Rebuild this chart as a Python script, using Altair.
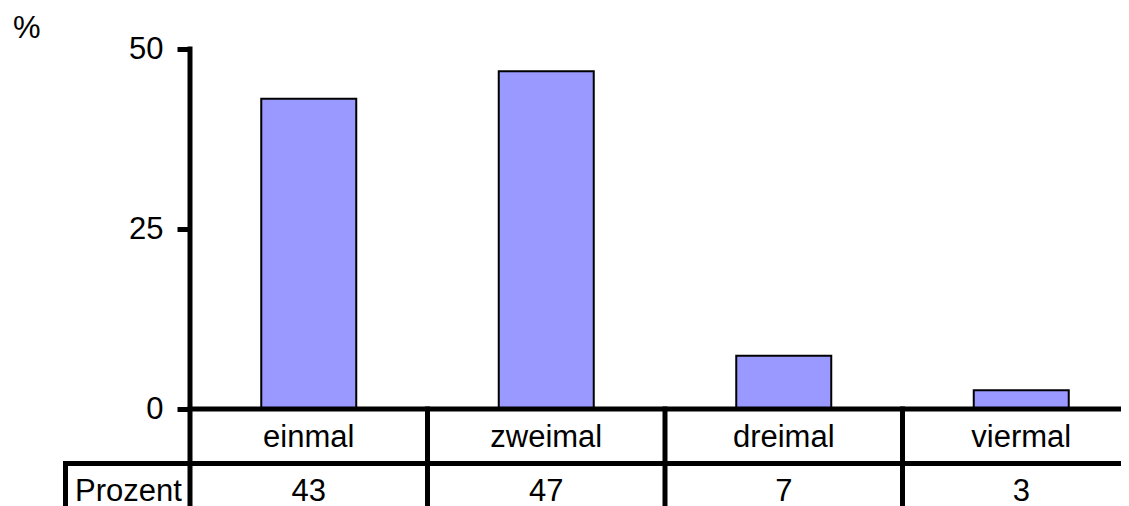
import altair as alt
import pandas as pd

categories = ["einmal", "zweimal", "dreimal", "viermal"]
values = [43.1, 46.9, 7.4, 2.6]
value_labels = ["43", "47", "7", "3"]
row_label = "Prozent"
y_ticks = [0, 25, 50]
unit_label = "%"

FONT = "Liberation Sans"
FS = 31
PLOT_W = 931
BAND = 237.5  # pixel width of one category column

df = pd.DataFrame({"cat": categories, "val": values, "lab": value_labels,
                   "i": list(range(len(categories)))})
one = pd.DataFrame({"k": [0]})

xscale = alt.Scale(domain=[0, PLOT_W / BAND], nice=False, zero=False, padding=0)
yscale = alt.Scale(domain=[0, 50], nice=False, padding=0)

base = alt.Chart(df).transform_calculate(
    x0="datum.i + 0.3", x1="datum.i + 0.7", xc="datum.i + 0.5")

bars = base.mark_bar(color="#9999ff", stroke="black", strokeWidth=2).encode(
    x=alt.X("x0:Q", scale=xscale, axis=None),
    x2="x1:Q",
    y=alt.Y("val:Q", scale=yscale,
            axis=alt.Axis(values=y_ticks, grid=False, domain=False, tickSize=13, tickWidth=5,
                          tickColor="black", labelFontSize=FS, labelFont=FONT, labelColor="black",
                          labelPadding=14, title=None)),
    y2=alt.datum(0))

zero_line = alt.Chart(one).mark_rule(color="black", strokeWidth=5).encode(
    y=alt.datum(0, scale=yscale), x=alt.value(-2.5), x2=alt.value(PLOT_W + 20))

yaxis_line = alt.Chart(one).mark_rule(color="black", strokeWidth=5).encode(
    x=alt.value(0), y=alt.value(-2.5), y2=alt.value(470))

row_line = alt.Chart(one).mark_rule(color="black", strokeWidth=5).encode(
    y=alt.value(414.5), x=alt.value(-127), x2=alt.value(PLOT_W + 20))

left_border = alt.Chart(one).mark_rule(color="black", strokeWidth=5).encode(
    x=alt.value(-124.5), y=alt.value(412), y2=alt.value(470))

dividers = base.transform_filter("datum.i > 0").mark_rule(color="black", strokeWidth=5).encode(
    x=alt.X("i:Q", scale=xscale, axis=None),
    y=alt.value(357.5), y2=alt.value(470))

cat_text = base.mark_text(font=FONT, fontSize=FS, baseline="alphabetic", align="center",
                          color="black").encode(
    x=alt.X("xc:Q", scale=xscale, axis=None),
    y=alt.value(397.5), text="cat:N")

val_text = base.mark_text(font=FONT, fontSize=FS, baseline="alphabetic", align="center",
                          color="black").encode(
    x=alt.X("xc:Q", scale=xscale, axis=None),
    y=alt.value(451.5), text="lab:N")

row_text = alt.Chart(one).mark_text(font=FONT, fontSize=FS, baseline="alphabetic", align="left",
                                    color="black", text=row_label).encode(
    x=alt.value(-115), y=alt.value(451.5))

unit_text = alt.Chart(one).mark_text(font=FONT, fontSize=FS, baseline="alphabetic", align="left",
                                     color="black", text=unit_label).encode(
    x=alt.value(-177), y=alt.value(-11))

chart = alt.layer(bars, zero_line, row_line, yaxis_line, left_border, dividers,
                  cat_text, val_text, row_text, unit_text).properties(
    width=PLOT_W, height=360,
    autosize=alt.AutoSizeParams(type="none"),
    padding={"left": 182, "top": 41, "right": 0, "bottom": 97},
).configure(background="white").configure_view(stroke=None)

chart.save("out.html", embed_options={"renderer": "svg", "actions": False})
